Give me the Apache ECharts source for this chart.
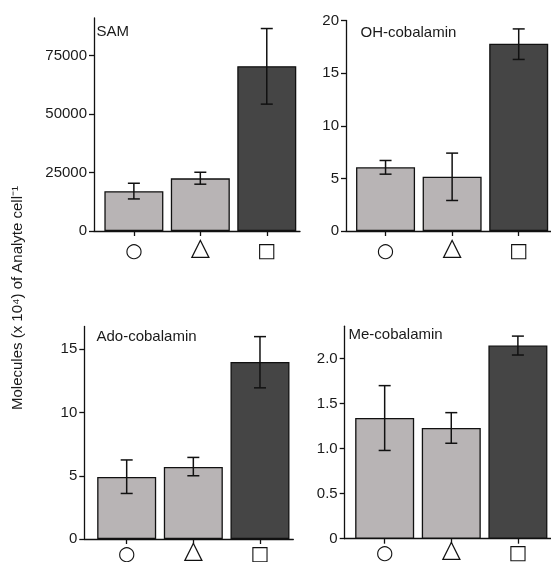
<!DOCTYPE html>
<html>
<head>
<meta charset="utf-8">
<script src="https://cdn.jsdelivr.net/npm/echarts@6/dist/echarts.min.js"></script>
<style>
  html, body { margin: 0; padding: 0; background: #fff; }
  #chart { width: 551px; height: 562px; }
</style>
</head>
<body>
<div id="chart"></div>
<script>
const categories = ['○', '△', '□'];
const panelNames = ['SAM', 'OH-cobalamin', 'Ado-cobalamin', 'Me-cobalamin'];
const yTitle = 'Molecules (x 10⁴) of Analyte cell⁻¹';

const samValues = [17000, 22500, 70400];
const samErrLow = [13700, 20000, 54200];
const samErrHigh = [20400, 25100, 86500];
const samTicks = [0, 25000, 50000, 75000];

const ohValues = [6.05, 5.15, 17.8];
const ohErrLow = [5.4, 2.9, 16.3];
const ohErrHigh = [6.7, 7.4, 19.2];
const ohTicks = [0, 5, 10, 15, 20];

const adoValues = [4.9, 5.7, 14.0];
const adoErrLow = [3.6, 5.0, 11.95];
const adoErrHigh = [6.25, 6.45, 16.0];
const adoTicks = [0, 5, 10, 15];

const meValues = [1.34, 1.23, 2.145];
const meErrLow = [0.98, 1.06, 2.04];
const meErrHigh = [1.70, 1.40, 2.25];
const meTicks = [0, 0.5, 1.0, 1.5, 2.0];

const LIGHT = '#b8b4b5';
const DARK = '#454545';
const INK = '#111111';
const FONT = 'Liberation Sans, Arial, Helvetica, sans-serif';
const symbolStyleKeys = ['c', 't', 's'];

const panels = [
  { values: samValues, low: samErrLow, high: samErrHigh, ticks: samTicks, yMax: 91000, xMin: -0.60,
    grid: { left: 94, top: 18, width: 206, height: 213 }, fmt: v => String(v),
    title: { x: 96.5, y: 24 }, labelMargin: 8 },
  { values: ohValues, low: ohErrLow, high: ohErrHigh, ticks: ohTicks, yMax: 20, xMin: -0.594,
    grid: { left: 346, top: 20.5, width: 206, height: 210.5 }, fmt: v => String(v),
    title: { x: 360.5, y: 25.5 }, labelMargin: 8 },
  { values: adoValues, low: adoErrLow, high: adoErrHigh, ticks: adoTicks, yMax: 16.8, xMin: -0.636,
    grid: { left: 84.3, top: 326.5, width: 209, height: 212.5 }, fmt: v => String(v),
    title: { x: 96.5, y: 329 }, labelMargin: 3 },
  { values: meValues, low: meErrLow, high: meErrHigh, ticks: meTicks, yMax: 2.36, xMin: -0.60,
    grid: { left: 344.7, top: 326.2, width: 206.5, height: 212.5 }, fmt: v => (v === 0 ? '0' : v.toFixed(1)),
    title: { x: 348.5, y: 327 }, labelMargin: 3 }
];

const grids = [], xAxes = [], yAxes = [], series = [], graphics = [];

panels.forEach((p, k) => {
  grids.push(Object.assign({ containLabel: false, outerBoundsMode: 'none' }, p.grid));
  xAxes.push({
    type: 'value', gridIndex: k, min: p.xMin, max: 2.5,
    splitLine: { show: false },
    axisLine: { show: true, onZero: false, lineStyle: { color: INK, width: 1.3 } },
    axisTick: { show: true, customValues: [0, 1, 2], length: 5, lineStyle: { color: INK, width: 1.3 } },
    axisLabel: {
      customValues: [0, 1, 2], margin: p.labelMargin,
      formatter: v => {
        const i = Math.round(v);
        return '{' + symbolStyleKeys[i] + '|' + categories[i] + '}';
      },
      fontFamily: 'DejaVu Sans', fontSize: 18, color: INK, lineHeight: 24,
      rich: {
        c: { fontFamily: 'DejaVu Sans', fontSize: 20, color: INK, lineHeight: 24, padding: [1, 0, 0, 0] },
        t: { fontFamily: 'DejaVu Sans', fontSize: 25, color: INK, lineHeight: 18 },
        s: { fontFamily: 'DejaVu Sans', fontSize: 20, color: INK, lineHeight: 24, padding: [1, 0, 0, 0] }
      }
    }
  });
  yAxes.push({
    type: 'value', gridIndex: k, min: 0, max: p.yMax,
    splitLine: { show: false },
    axisLine: { show: true, onZero: false, lineStyle: { color: INK, width: 1.3 } },
    axisTick: { show: true, customValues: p.ticks, length: 5, lineStyle: { color: INK, width: 1.3 } },
    axisLabel: {
      customValues: p.ticks, margin: 7, formatter: p.fmt,
      fontFamily: FONT, fontSize: 15, color: '#1a1a1a'
    }
  });
  series.push({
    type: 'bar', xAxisIndex: k, yAxisIndex: k, barWidth: 59,
    data: p.values.map((v, i) => ({
      value: [i, v],
      itemStyle: { color: i === 2 ? DARK : LIGHT, borderColor: INK, borderWidth: 1.3 }
    })),
    silent: true, animation: false
  });
  series.push({
    type: 'custom', xAxisIndex: k, yAxisIndex: k, clip: false, animation: false, silent: true,
    encode: { x: 0, y: [1, 2] },
    data: p.values.map((v, i) => [i, p.low[i], p.high[i]]),
    renderItem: (params, api) => {
      const x = api.value(0);
      const a = api.coord([x, api.value(1)]);
      const b = api.coord([x, api.value(2)]);
      const w = 6;
      const st = { stroke: INK, lineWidth: 1.5 };
      return {
        type: 'group',
        children: [
          { type: 'line', shape: { x1: a[0], y1: a[1], x2: b[0], y2: b[1] }, style: st },
          { type: 'line', shape: { x1: a[0] - w, y1: a[1], x2: a[0] + w, y2: a[1] }, style: st },
          { type: 'line', shape: { x1: b[0] - w, y1: b[1], x2: b[0] + w, y2: b[1] }, style: st }
        ]
      };
    },
    z: 5
  });
  graphics.push({
    type: 'text', x: p.title.x, y: p.title.y,
    style: { text: panelNames[k], font: '15px ' + FONT, fill: '#1a1a1a', textVerticalAlign: 'top' }
  });
});

graphics.push({
  type: 'text', x: 18, y: 298, rotation: Math.PI / 2,
  style: { text: yTitle, font: '15px ' + FONT, fill: '#1a1a1a', textAlign: 'center', textVerticalAlign: 'middle' }
});

const chart = echarts.init(document.getElementById('chart'), null, { renderer: 'canvas' });
chart.setOption({
  animation: false,
  backgroundColor: '#ffffff',
  grid: grids,
  xAxis: xAxes,
  yAxis: yAxes,
  series: series,
  graphic: graphics
});
</script>
</body>
</html>
